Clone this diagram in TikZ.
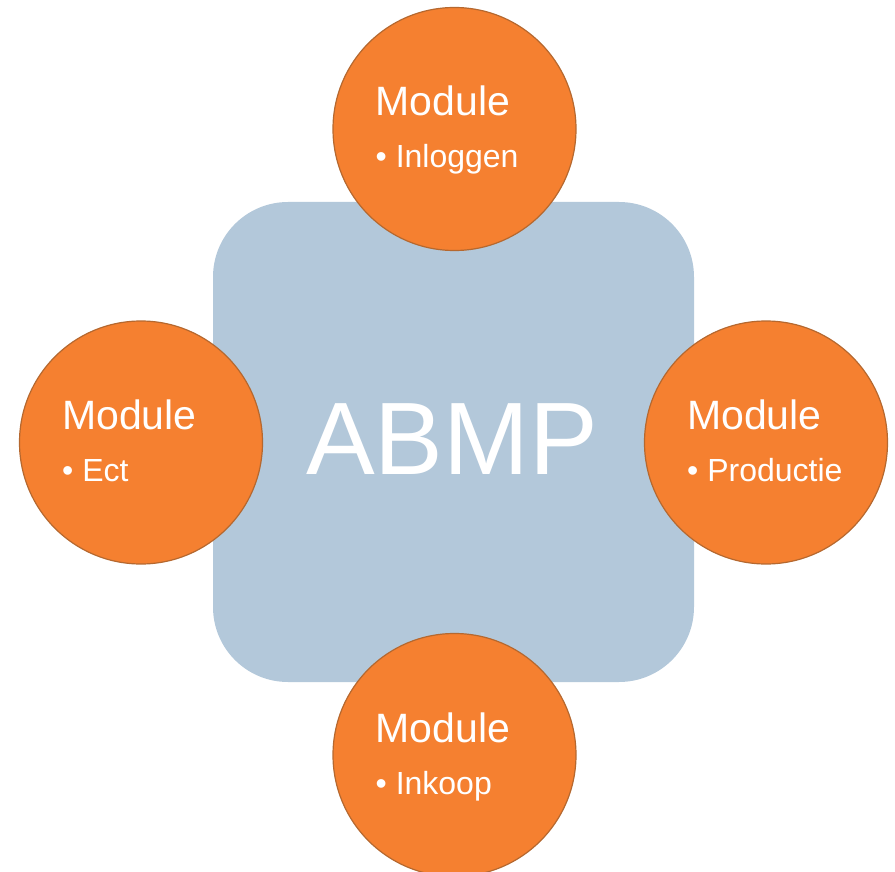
\documentclass[tikz,border=0pt]{standalone}
\usepackage{fontspec}
\setmainfont{Liberation Sans}
\definecolor{boxblue}{HTML}{B3C8DA}
\definecolor{modorange}{HTML}{F58030}
\definecolor{modedge}{HTML}{B5682F}
\begin{document}
\begin{tikzpicture}[x=1pt,y=-1pt,
  module/.style={circle,fill=modorange,draw=modedge,line width=1.2pt,minimum size=243pt,inner sep=0pt},
  modtitle/.style={anchor=base west,text=white,inner sep=0pt,font=\fontsize{41}{41}\selectfont},
  moditem/.style={anchor=base west,text=white,inner sep=0pt,font=\fontsize{32}{32}\selectfont},
  core/.style={fill=boxblue,rounded corners=75pt}]
\useasboundingbox (0,0) rectangle (895,872);
\fill[core] (213,202) rectangle (694,682);
\node[anchor=base,text=white,inner sep=0pt,font=\fontsize{103}{103}\selectfont] (abmp) at (452,474) {ABMP};
\node[module] (top) at (454.5,129) {};
\node[module] (left) at (141,442.5) {};
\node[module] (right) at (766,442.5) {};
\node[module] (bottom) at (454.5,755) {};
\node[modtitle] (t1) at ([xshift=-79pt,yshift=13pt]top.center) {Module};
\node[moditem] (t2) at ([xshift=-79pt,yshift=-39pt]top.center) {\textbullet\ Inloggen};
\node[modtitle] (l1) at ([xshift=-79pt,yshift=13pt]left.center) {Module};
\node[moditem] (l2) at ([xshift=-79pt,yshift=-39pt]left.center) {\textbullet\ Ect};
\node[modtitle] (r1) at ([xshift=-79pt,yshift=13pt]right.center) {Module};
\node[moditem] (r2) at ([xshift=-79pt,yshift=-39pt]right.center) {\textbullet\ Productie};
\node[modtitle] (b1) at ([xshift=-79pt,yshift=13pt]bottom.center) {Module};
\node[moditem] (b2) at ([xshift=-79pt,yshift=-39pt]bottom.center) {\textbullet\ Inkoop};
\end{tikzpicture}
\end{document}
